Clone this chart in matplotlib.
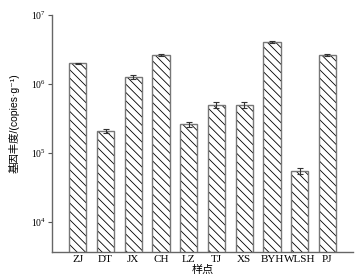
import matplotlib
matplotlib.use('Agg')
import matplotlib.pyplot as plt
import numpy as np

plt.rcParams['font.family'] = ['Liberation Serif', 'Noto Sans CJK SC', 'DejaVu Sans']
plt.rcParams['mathtext.fontset'] = 'stix'
plt.rcParams['hatch.linewidth'] = 0.6

# sample sites and gene abundance (copies/g)
sites = ['ZJ', 'DT', 'JX', 'CH', 'LZ', 'TJ', 'XS', 'BYH', 'WLSH', 'PJ']
abundance = [2.0e6, 2.1e5, 1.26e6, 2.65e6, 2.6e5, 5.0e5, 5.0e5, 4.1e6, 5.5e4, 2.65e6]
errors = [0.05e6, 0.15e5, 0.07e6, 0.08e6, 0.25e5, 0.5e5, 0.5e5, 0.15e6, 0.5e4, 0.1e6]

fig = plt.figure(figsize=(3.6, 2.79), dpi=100)
ax = fig.add_axes([0.144, 0.097, 0.837, 0.849])

x = np.arange(len(sites))
# hatch layer, then gray outline on top
ax.bar(x, abundance, width=0.62, color='white', edgecolor='black', linewidth=0, hatch='\\\\\\\\')
ax.bar(x, abundance, width=0.62, color='none', edgecolor='#777777', linewidth=1.0)
ax.errorbar(x, abundance, yerr=errors, fmt='none', ecolor='#333333', elinewidth=0.8, capsize=2.5, capthick=0.8)

ax.set_yscale('log')
ax.set_ylim(10 ** 3.565, 1e7)
ax.set_xlim(-0.94, 9.93)
ax.set_yticks([1e4, 1e5, 1e6, 1e7])
ax.minorticks_off()
ax.set_xticks(x)
ax.set_xticklabels(sites)
ax.tick_params(axis='x', length=0, labelsize=8, pad=2)
ax.tick_params(axis='y', length=3, width=0.8, color='#555555', labelsize=7, pad=1)

for side in ['top', 'right']:
    ax.spines[side].set_visible(False)
for side in ['left', 'bottom']:
    ax.spines[side].set_color('#666666')
    ax.spines[side].set_linewidth(1.0)

ax.set_ylabel('基因丰度/(copies·g⁻¹)', fontsize=7.5,
              family=['Liberation Sans', 'Noto Sans CJK SC', 'DejaVu Sans'])
ax.yaxis.set_label_coords(-0.108, 0.545)
ax.set_xlabel('样点', fontsize=8, labelpad=1)

fig.savefig('out.png', dpi=100)
